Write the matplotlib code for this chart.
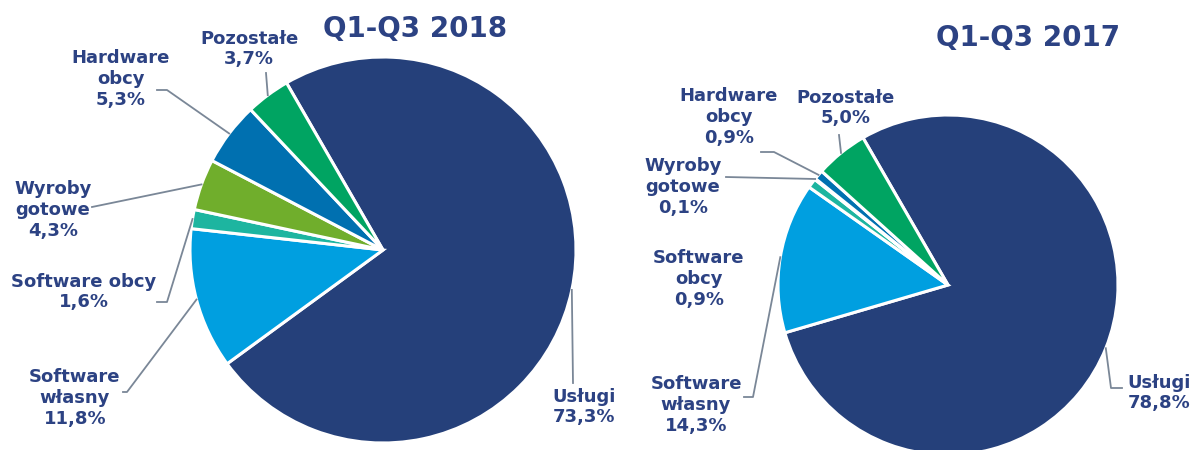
import numpy as np
import matplotlib
matplotlib.use("Agg")
import matplotlib.pyplot as plt

# Dane
categories = ["Usługi", "Software własny", "Software obcy", "Wyroby gotowe", "Hardware obcy", "Pozostałe"]
values_2018 = [73.3, 11.8, 1.6, 4.3, 5.3, 3.7]
values_2017 = [78.8, 14.3, 0.9, 0.1, 0.9, 5.0]
labels_2018 = ["Usługi\n73,3%", "Software\nwłasny\n11,8%", "Software obcy\n1,6%",
               "Wyroby\ngotowe\n4,3%", "Hardware\nobcy\n5,3%", "Pozostałe\n3,7%"]
labels_2017 = ["Usługi\n78,8%", "Software\nwłasny\n14,3%", "Software\nobcy\n0,9%",
               "Wyroby\ngotowe\n0,1%", "Hardware\nobcy\n0,9%", "Pozostałe\n5,0%"]
colors = ["#25407a", "#009fe0", "#1db5a0", "#70ae2c", "#0070b0", "#00a462"]

text_color = "#2c4283"
line_color = "#7a8797"

W, H = 1196, 450
fig = plt.figure(figsize=(W / 100, H / 100), dpi=100)


def pie_axes(cx, cy, r):
    # pozycja w pikselach (y od góry)
    return fig.add_axes([(cx - r) / W, (H - cy - r) / H, 2 * r / W, 2 * r / H])


ax1 = pie_axes(383, 250, 193)
ax2 = pie_axes(948, 285, 170)

overlay = fig.add_axes([0, 0, 1, 1], zorder=5)
overlay.set_xlim(0, W)
overlay.set_ylim(H, 0)
overlay.axis("off")

# pozycje etykiet i punkty linii (piksele)
label_pos_2018 = [(584, 407), (75, 398), (84, 292), (53, 210), (121, 79), (249, 49)]
leader_2018 = [[(573, 383)], [(123, 392), (127, 392)], [(157, 302), (167, 302)],
               [(92, 207)], [(157, 90), (167, 90)], [(266, 73)]]
label_pos_2017 = [(1159, 393), (696, 405), (699, 279), (683, 187), (729, 117), (846, 108)]
leader_2017 = [[(1122, 388), (1111, 388)], [(744, 397), (753, 397)], None,
               [(726, 177)], [(761, 152), (774, 152)], [(839, 135)]]

fig.canvas.draw()


def draw_pie(ax, values, labels, label_pos, leaders, title, title_pos):
    wedges, _ = ax.pie(values, colors=colors, startangle=120, counterclock=False,
                       wedgeprops=dict(edgecolor="white", linewidth=2.2))
    ax.set_xlim(-1, 1)
    ax.set_ylim(-1, 1)
    ax.set_aspect("auto")
    ax.axis("off")
    for w, lab, pos, pts in zip(wedges, labels, label_pos, leaders):
        overlay.text(pos[0], pos[1], lab, ha="center", va="center", multialignment="center",
                     fontsize=13, fontweight="bold", color=text_color)
        if pts is None:
            continue
        mid = np.deg2rad((w.theta1 + w.theta2) / 2)
        disp = ax.transData.transform((np.cos(mid), np.sin(mid)))
        anchor = overlay.transData.inverted().transform(disp)
        xs = [p[0] for p in pts] + [anchor[0]]
        ys = [p[1] for p in pts] + [anchor[1]]
        overlay.plot(xs, ys, color=line_color, lw=1.3)
    overlay.text(title_pos[0], title_pos[1], title, ha="center", va="center",
                 fontsize=20, fontweight="bold", color=text_color)


draw_pie(ax1, values_2018, labels_2018, label_pos_2018, leader_2018, "Q1-Q3 2018", (415, 29))
draw_pie(ax2, values_2017, labels_2017, label_pos_2017, leader_2017, "Q1-Q3 2017", (1028, 38))

fig.savefig("out.png", dpi=100)
